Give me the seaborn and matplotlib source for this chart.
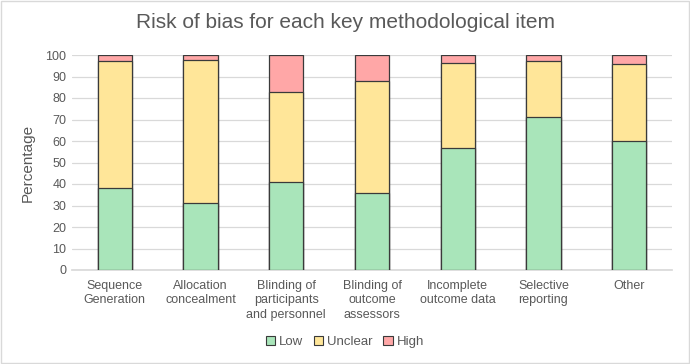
import matplotlib
matplotlib.use("Agg")
import matplotlib.pyplot as plt
import seaborn as sns
import pandas as pd
import numpy as np
from matplotlib.patches import Patch, Rectangle

categories = ["Sequence\nGeneration", "Allocation\nconcealment", "Blinding of\nparticipants\nand personnel",
              "Blinding of\noutcome\nassessors", "Incomplete\noutcome data", "Selective\nreporting", "Other"]
low = [38.1, 31.2, 41.1, 36.0, 56.6, 71.2, 60.1]
unclear = [59.1, 66.5, 41.5, 51.9, 39.5, 25.9, 35.9]
high = [2.8, 2.3, 17.4, 12.1, 3.9, 2.9, 4.0]

colors = {"Low": "#A9E5BA", "Unclear": "#FFE699", "High": "#FFA7A7"}

sns.set_theme(style="white")
plt.rcParams['font.family'] = ['Liberation Sans', 'DejaVu Sans']

df = pd.DataFrame({"cat": categories, "low": low, "unclear": unclear, "high": high})
df["lu"] = df["low"] + df["unclear"]
df["total"] = df["lu"] + df["high"]

fig = plt.figure(figsize=(6.9, 3.64), dpi=100)
ax = fig.add_axes([72/690, 1-270/364, 600/690, 215/364])

for col, key in [("total", "High"), ("lu", "Unclear"), ("low", "Low")]:
    sns.barplot(data=df, x="cat", y=col, color=colors[key], saturation=1, width=0.4,
                edgecolor="#3a3a3a", linewidth=0.9, ax=ax, zorder=3)

ax.set_ylim(0, 100)
ax.set_xlim(-0.5, 6.5)
ax.set_yticks(range(0, 101, 10))
ax.yaxis.grid(True, color="#D9D9D9", linewidth=0.9, zorder=0)
ax.set_axisbelow(True)
for s in ["top", "right", "left"]:
    ax.spines[s].set_visible(False)
ax.spines["bottom"].set_color("#D9D9D9")
ax.tick_params(axis="both", length=0, labelsize=9, colors="#595959", pad=4)
ax.tick_params(axis="x", pad=7)
for lbl in ax.get_xticklabels():
    lbl.set_linespacing(1.3)
ax.set_xlabel("")
ax.set_ylabel("Percentage", fontsize=11, color="#595959", labelpad=8)
fig.suptitle("Risk of bias for each key methodological item", fontsize=15, color="#595959", y=0.965)

handles = [Patch(facecolor=colors[k], edgecolor="#3a3a3a", linewidth=0.8, label=k) for k in ["Low", "Unclear", "High"]]
fig.legend(handles=handles, loc="center", bbox_to_anchor=(0.5, 1-342/364), ncol=3, frameon=False,
           fontsize=9.5, labelcolor="#595959", handlelength=0.7, handleheight=0.7, handletextpad=0.3,
           columnspacing=0.8)

fig.patches.append(Rectangle((0.001, 0.002), 0.997, 0.995, transform=fig.transFigure, fill=False,
                             edgecolor="#D9D9D9", linewidth=1))

fig.savefig("out.png", dpi=100, facecolor="white")
